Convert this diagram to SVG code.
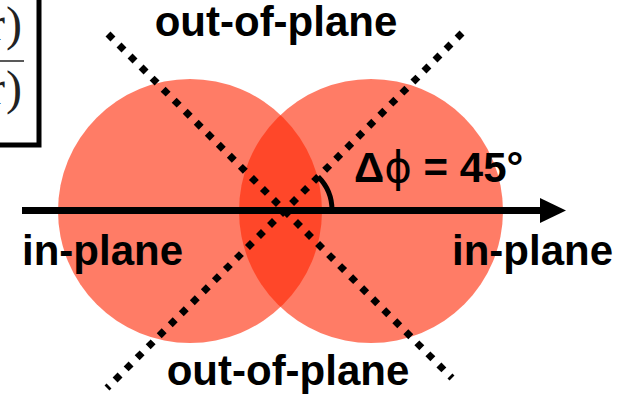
<svg xmlns="http://www.w3.org/2000/svg" width="623" height="394" viewBox="0 0 623 394">
<style>
.lbl{font-family:"Liberation Sans",Arial,sans-serif;font-weight:bold;font-size:42px;fill:#000}
.circ{fill:rgb(255,37,0);fill-opacity:0.6}
.dot{stroke:#000;stroke-width:7;stroke-dasharray:7 8.6;fill:none}
.math{font-family:"Liberation Serif","Times New Roman",serif;font-size:48px;fill:#222}
</style>
<rect width="623" height="394" fill="#fff"/>
<g id="formula-box">
<path d="M -10 145 H 39 V -10" fill="none" stroke="#000" stroke-width="5"/>
<text class="math" x="5" y="40" text-anchor="end">r</text>
<text class="math" x="6" y="40">)</text>
<line x1="-2" y1="61" x2="24" y2="61" stroke="#222" stroke-width="1.5"/>
<text class="math" x="5" y="104" text-anchor="end">r</text>
<text class="math" x="6" y="104">)</text>
</g>
<g id="circle-left"><circle class="circ" cx="190" cy="211" r="132"/></g>
<g id="circle-right"><circle class="circ" cx="371" cy="211" r="132"/></g>
<g id="connectors">
<line class="dot" x1="108" y1="34" x2="452" y2="378"/>
<line class="dot" x1="462" y1="33" x2="107" y2="388"/>
<line x1="22" y1="210.5" x2="543" y2="210.5" stroke="#000" stroke-width="7"/>
<polygon points="540,198 566,210.5 540,223" fill="#000"/>
<path d="M 318.2 176.8 A 47 47 0 0 1 332 210.5" fill="none" stroke="#000" stroke-width="5"/>
</g>
<g id="label-top"><text class="lbl" x="276" y="36" text-anchor="middle">out-of-plane</text></g>
<g id="label-bottom"><text class="lbl" x="288" y="385" text-anchor="middle">out-of-plane</text></g>
<g id="label-left"><text class="lbl" x="22" y="265">in-plane</text></g>
<g id="label-right"><text class="lbl" x="452" y="265">in-plane</text></g>
<g id="label-angle"><text class="lbl" x="354" y="182">Δ<tspan font-weight="normal" font-family="'DejaVu Sans',sans-serif">ϕ</tspan> = 45°</text></g>
</svg>
